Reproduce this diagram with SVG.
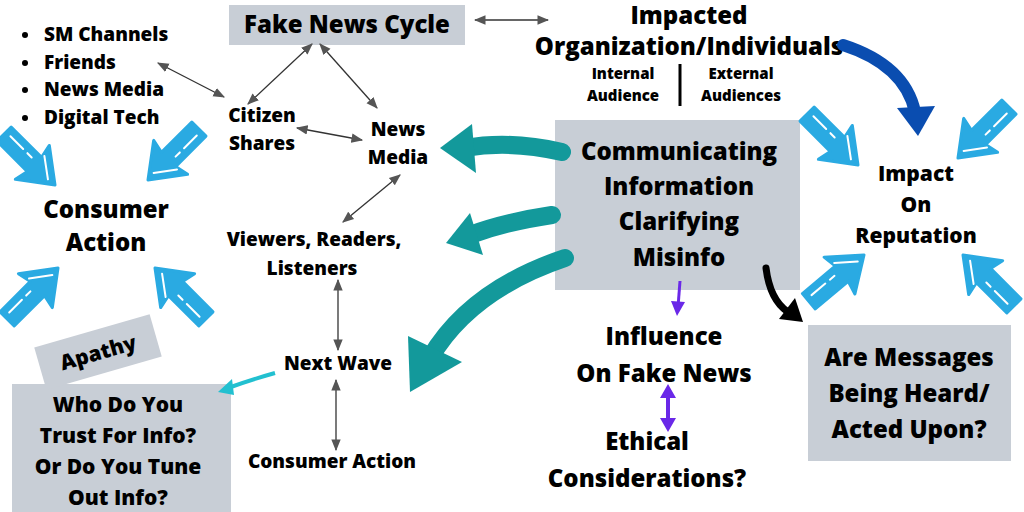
<svg xmlns="http://www.w3.org/2000/svg" width="1024" height="512" viewBox="0 0 1024 512">
<style>
text{font-family:"Open Sans","DejaVu Sans",sans-serif;font-weight:800;fill:#000;text-anchor:middle}
.l{font-size:24px}.m{font-size:21px}.s{font-size:19px}.xs{font-size:15px}
.box{fill:#c8ced6}
.thin{stroke:#333;stroke-width:1.3;fill:none;marker-start:url(#ah);marker-end:url(#ah)}
.teal{stroke:#13999b;stroke-width:18;fill:none;stroke-linecap:round}
</style>
<defs>
<marker id="ah" viewBox="0 0 10 10" refX="9" refY="5" markerWidth="9" markerHeight="9" orient="auto-start-reverse"><path d="M0,1 L10,5 L0,9 Z" fill="#555"/></marker>
<g id="ba"><path d="M0,0 L-32,-24 L-29,-10 L-72,-10 L-72,10 L-29,10 L-32,24 Z" fill="#2aaae2" stroke="#2aaae2" stroke-width="3" stroke-linejoin="round"/><path d="M-66,-3 L-48,-3 M-42,-3 L-36,-3 M-28,-13 L-9,1" stroke="#fff" stroke-width="2" stroke-linecap="round"/></g>
</defs>
<rect width="1024" height="512" fill="#fff"/>
<g id="fake-news-cycle"><rect class="box" x="229" y="5" width="236" height="40"/><text class="l" x="347" y="33">Fake News Cycle</text></g>
<g id="sources"><circle cx="25" cy="35" r="3"/><circle cx="25" cy="63" r="3"/><circle cx="25" cy="90" r="3"/><circle cx="25" cy="118" r="3"/>
<text class="s" x="44" y="41" style="text-anchor:start">SM Channels</text><text class="s" x="44" y="69" style="text-anchor:start">Friends</text><text class="s" x="44" y="96" style="text-anchor:start">News Media</text><text class="s" x="44" y="124" style="text-anchor:start">Digital Tech</text></g>
<g id="impacted"><text class="l" x="689" y="24">Impacted</text><text class="l" x="689" y="55">Organization/Individuals</text>
<text class="xs" x="623" y="79">Internal</text><text class="xs" x="623" y="101">Audience</text><line x1="680" y1="64" x2="680" y2="106" stroke="#000" stroke-width="3"/><text class="xs" x="741" y="79">External</text><text class="xs" x="741" y="101">Audiences</text></g>
<g id="citizen"><text class="s" x="262" y="122">Citizen</text><text class="s" x="262" y="150">Shares</text></g>
<g id="newsmedia"><text class="s" x="398" y="136">News</text><text class="s" x="398" y="164">Media</text></g>
<g id="viewers"><text class="s" x="314" y="246">Viewers, Readers,</text><text class="s" x="312" y="275">Listeners</text></g>
<g id="nextwave"><text class="s" x="338" y="370">Next Wave</text></g>
<g id="consumer-action2"><text class="s" x="332" y="468">Consumer Action</text></g>
<g id="consumer"><text class="l" x="106" y="218">Consumer</text><text class="l" x="106" y="251">Action</text></g>
<g id="communicating"><rect class="box" x="555" y="120" width="245" height="170"/><text class="l" x="679" y="160">Communicating</text><text class="l" x="679" y="195">Information</text><text class="l" x="679" y="230">Clarifying</text><text class="l" x="679" y="266">Misinfo</text></g>
<g id="impact"><text class="m" x="916" y="181">Impact</text><text class="m" x="916" y="212">On</text><text class="m" x="916" y="243">Reputation</text></g>
<g id="influence"><text class="l" x="664" y="345">Influence</text><text class="l" x="664" y="382">On Fake News</text></g>
<g id="ethical"><text class="l" x="647" y="450">Ethical</text><text class="l" x="647" y="487">Considerations?</text></g>
<g id="messages"><rect class="box" x="808" y="325" width="203" height="136"/><text class="l" x="909" y="366">Are Messages</text><text class="l" x="909" y="402">Being Heard/</text><text class="l" x="909" y="438">Acted Upon?</text></g>
<g id="trust"><rect class="box" x="12" y="384" width="219" height="128"/><text class="m" x="118" y="412">Who Do You</text><text class="m" x="118" y="443">Trust For Info?</text><text class="m" x="118" y="474">Or Do You Tune</text><text class="m" x="118" y="505">Out Info?</text></g>
<g id="apathy" transform="rotate(-16 98 352)"><rect class="box" x="38" y="330" width="120" height="44"/><text class="m" x="98" y="360">Apathy</text></g>
<g id="connectors">
<path class="thin" d="M475,20 L548,20"/>
<path class="thin" d="M158,63 L224,97"/>
<path class="thin" d="M248,104 L312,44"/>
<path class="thin" d="M320,44 L377,108"/>
<path class="thin" d="M297,128 L362,140"/>
<path class="thin" d="M400,175 L343,222"/>
<path class="thin" d="M338,280 L338,350"/>
<path class="thin" d="M336,380 L336,450"/>
<path d="M275,373 Q250,380 228,388" stroke="#22c0d0" stroke-width="4" fill="none"/><path d="M218,392 L232,379 L234,395 Z" fill="#22c0d0"/>
<path class="teal" d="M562,152 Q510,140 465,148"/><path d="M440,148 L472,124 L476,173 Z" fill="#13999b"/>
<path class="teal" d="M552,215 Q505,222 470,235"/><path d="M446,243 L470,213 L483,255 Z" fill="#13999b"/>
<path class="teal" d="M565,258 Q470,290 430,358"/><path d="M410,392 L408,336 L462,362 Z" fill="#13999b"/>
<path d="M843,45 Q905,65 915,112" stroke="#0a4db0" stroke-width="12" fill="none" stroke-linecap="round"/><path d="M918,136 L897,108 L935,106 Z" fill="#0a4db0"/>
<path d="M766,268 Q770,300 788,312" stroke="#000" stroke-width="7" fill="none" stroke-linecap="round"/><path d="M803,322 L779,319 L795,298 Z" fill="#000"/>
<path d="M680,281 L678,307" stroke="#6a28e8" stroke-width="3" fill="none"/><path d="M677,316 L671,301 L685,302 Z" fill="#6a28e8"/>
<path d="M668,394 L668,422" stroke="#6a28e8" stroke-width="4" fill="none"/><path d="M668,384 L660,398 L676,398 Z M668,432 L660,418 L676,418 Z" fill="#6a28e8"/>
<use href="#ba" transform="translate(55,185) rotate(45)"/>
<use href="#ba" transform="translate(148,180) rotate(135)"/>
<use href="#ba" transform="translate(58,268) rotate(-45)"/>
<use href="#ba" transform="translate(155,268) rotate(-135)"/>
<use href="#ba" transform="translate(858,165) rotate(45)"/>
<use href="#ba" transform="translate(958,158) rotate(135)"/>
<use href="#ba" transform="translate(864,255) rotate(-40)"/>
<use href="#ba" transform="translate(963,255) rotate(-135)"/>
</g>
</svg>
